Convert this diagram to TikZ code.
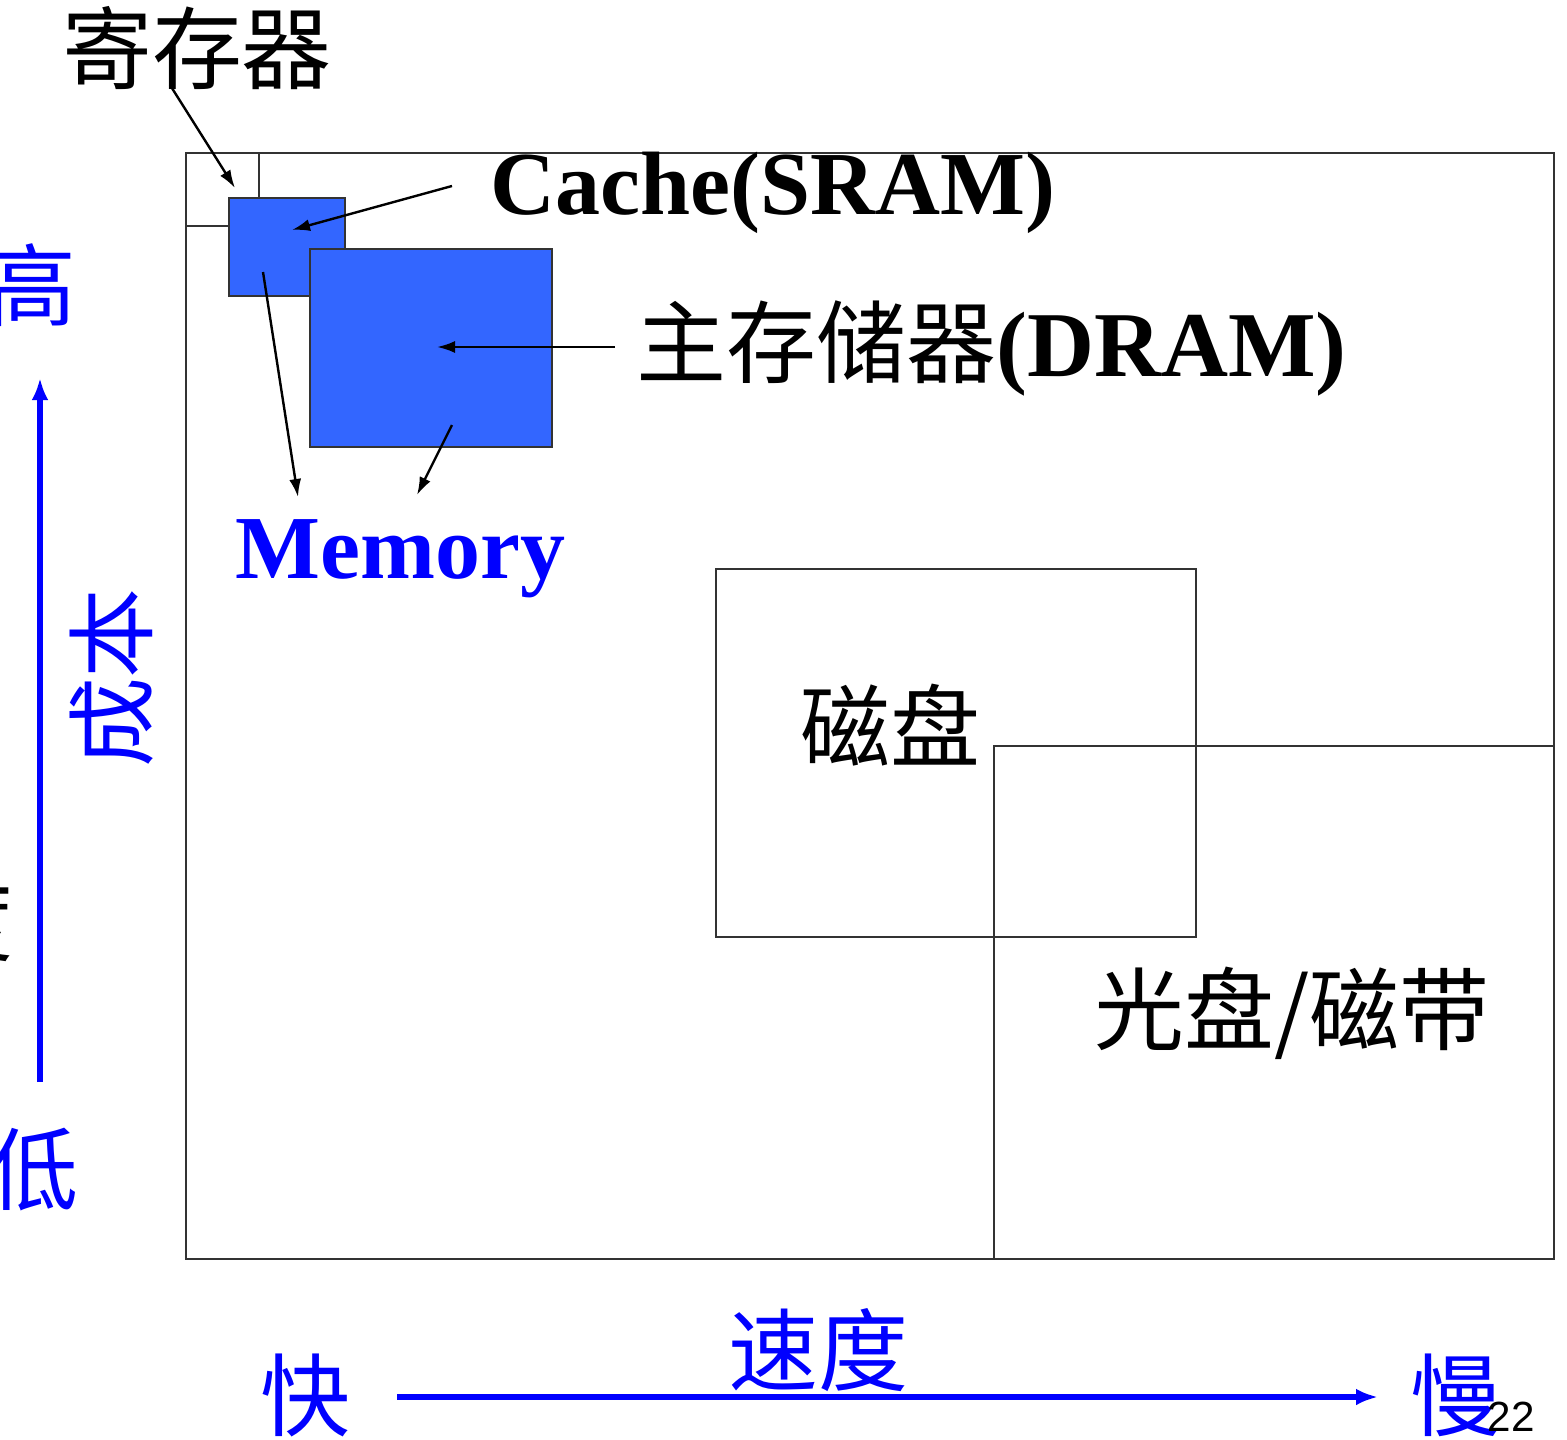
\documentclass[tikz,border=0pt]{standalone}
\usepackage{fontspec}
\setmainfont{Liberation Serif}
\newfontfamily\cjk{Noto Sans CJK SC}
\newfontfamily\numfont{Liberation Sans}
\usetikzlibrary{arrows.meta}
\definecolor{boxblue}{HTML}{3366FF}
\definecolor{axisblue}{HTML}{0000FF}

\begin{document}
\begin{tikzpicture}[x=0.25mm,y=-0.25mm,
  membox/.style n args={2}{draw=black!80,line width=0.55mm,rectangle,inner sep=0pt,minimum width=#1mm,minimum height=#2mm},
  ptr/.style={-{Latex[length=4.5mm,width=3mm]},line width=0.6mm},
  axis/.style={axisblue,line width=1.4mm,-{Latex[length=5.5mm,width=4.2mm]}},
  zh/.style={inner sep=0pt,font=\fontsize{64}{70}\selectfont\cjk},
  en/.style={inner sep=0pt,font=\fontsize{64}{70}\selectfont\bfseries},
  bl/.style={text=axisblue}]
\useasboundingbox (0,0) rectangle (1567,1440);
\node[membox={342}{276.5}] (all) at (870,706) {};
\node[membox={18.25}{18.25}] (reg) at (222.5,189.5) {};
\node[membox={29}{24.5},fill=boxblue] (cache) at (287,247) {};
\node[membox={60.5}{49.5},fill=boxblue] (dram) at (431,348) {};
\node[membox={120}{92}] (disk) at (956,753) {};
\node[membox={140}{128.25}] (tape) at (1274,1002.5) {};
\node[zh] (reglbl) at (197,48) {寄存器};
\node[en,anchor=base west] (cachelbl) at (490,214) {Cache(SRAM)};
\node[zh,anchor=base west] (dramlbl) at (636,376) {主存储器\fontsize{66}{70}\selectfont\bfseries\rmfamily(DRAM)};
\node[en,bl,anchor=base west] (memlbl) at (235,578) {Memory};
\node[zh] (disklbl) at (890,725) {磁盘};
\node[zh] (tapelbl) at (1292,1013) {光盘/磁带};
\node[zh,bl] (hi) at (31,285) {高};
\node[zh,bl] (lo) at (33,1170) {低};
\node[zh] (cut) at (-32,920) {度};
\node[zh,bl,rotate=90] (cost) at (112,678) {成本};
\node[zh,bl] (fast) at (305,1395) {快};
\node[zh,bl] (speed) at (818,1350) {速度};
\node[zh,bl] (slow) at (1455,1395) {慢};
\node[inner sep=0pt,font=\fontsize{30}{34}\selectfont\numfont] (page) at (1511,1417) {22};
\coordinate (r0) at (170,85);
\coordinate (r1) at (235,188);
\coordinate (c0) at (452,186);
\coordinate (c1) at (292,230);
\coordinate (d0) at (615,347);
\coordinate (d1) at (437,347);
\coordinate (m0) at (263,272);
\coordinate (m1) at (298,497);
\coordinate (m2) at (452,425);
\coordinate (m3) at (417,495);
\coordinate (y0) at (40,1082);
\coordinate (y1) at (40,378);
\coordinate (x0) at (397,1397);
\coordinate (x1) at (1378,1397);
\draw[ptr] (r0) -- (r1);
\draw[ptr] (c0) -- (c1);
\draw[ptr] (d0) -- (d1);
\draw[ptr] (m0) -- (m1);
\draw[ptr] (m2) -- (m3);
\draw[axis] (y0) -- (y1);
\draw[axis] (x0) -- (x1);
\end{tikzpicture}
\end{document}
